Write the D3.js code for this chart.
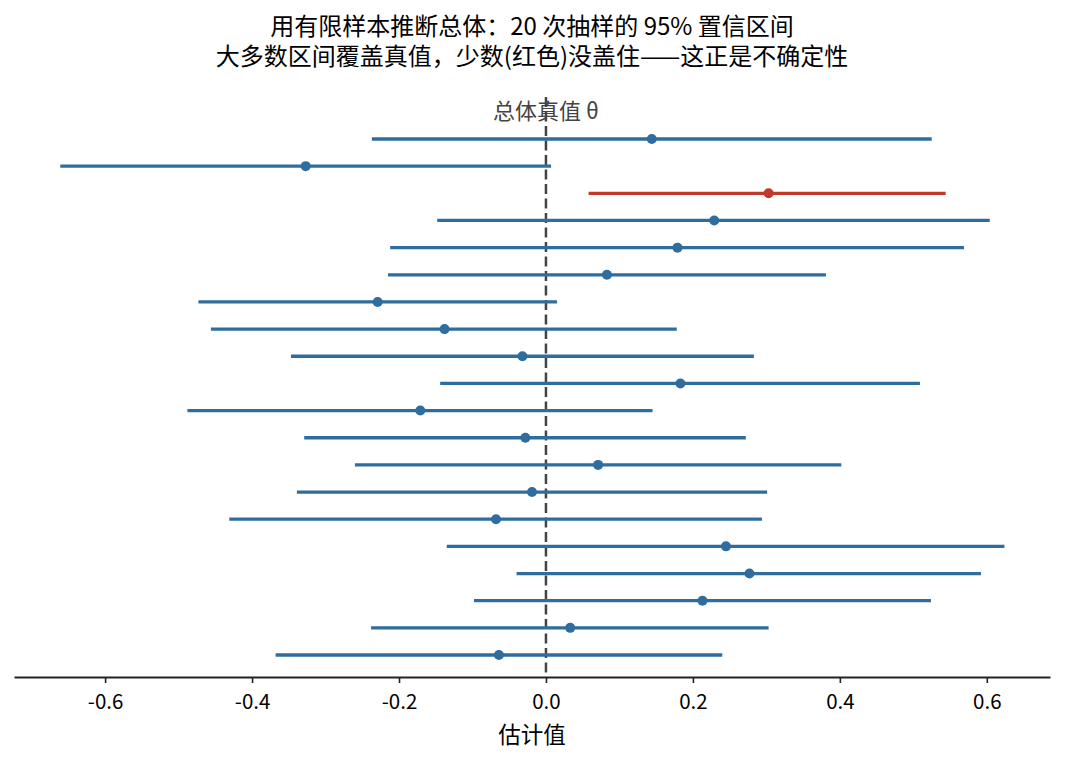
<!DOCTYPE html>
<html>
<head>
<meta charset="utf-8">
<script src="https://cdn.jsdelivr.net/npm/d3@7"></script>
<style>
  body { margin: 0; background: #fff; }
  svg text { font-family: "Noto Sans CJK SC", "Noto Sans", sans-serif; }
</style>
</head>
<body>
<div id="chart"></div>
<script>
// 20 samples, top to bottom: lower bound, point estimate, upper bound
const lower = [-0.237, -0.661, 0.058, -0.148, -0.212, -0.215, -0.473, -0.456, -0.347, -0.144,
               -0.488, -0.329, -0.260, -0.339, -0.431, -0.135, -0.040, -0.098, -0.238, -0.368];
const estimate = [0.144, -0.327, 0.303, 0.229, 0.179, 0.083, -0.229, -0.138, -0.032, 0.183,
                  -0.171, -0.028, 0.071, -0.019, -0.068, 0.245, 0.277, 0.213, 0.033, -0.064];
const upper = [0.525, 0.007, 0.544, 0.604, 0.569, 0.381, 0.015, 0.178, 0.283, 0.509,
               0.145, 0.272, 0.402, 0.301, 0.294, 0.624, 0.592, 0.524, 0.303, 0.240];
const trueValue = 0;
const xTicks = [-0.6, -0.4, -0.2, 0.0, 0.2, 0.4, 0.6];
const titleLines = ["用有限样本推断总体：20 次抽样的 95% 置信区间",
                    "大多数区间覆盖真值，少数(红色)没盖住——这正是不确定性"];

const W = 1065, H = 762;
const svg = d3.select("#chart").append("svg")
    .attr("width", W).attr("height", H);

const x = d3.scaleLinear().domain([-0.724, 0.686]).range([14, 1050]);
const y = d3.scalePoint().domain(d3.range(lower.length)).range([139, 655]);

const blue = "#2e6d9e", red = "#c0392b";
const rows = d3.range(lower.length).map(i => ({
    i, lo: lower[i], est: estimate[i], hi: upper[i],
    miss: lower[i] > trueValue || upper[i] < trueValue
}));

// true value line
svg.append("line")
    .attr("x1", x(trueValue)).attr("x2", x(trueValue))
    .attr("y1", 97).attr("y2", 677)
    .attr("stroke", "#444").attr("stroke-width", 2.5)
    .attr("stroke-dasharray", "10,4.5");

svg.append("text")
    .attr("x", x(trueValue)).attr("y", 119)
    .attr("text-anchor", "middle")
    .attr("font-size", 22).attr("fill", "#444")
    .text("总体真值 θ");

// intervals
svg.selectAll("line.ci").data(rows).enter().append("line")
    .attr("class", "ci")
    .attr("x1", d => x(d.lo)).attr("x2", d => x(d.hi))
    .attr("y1", d => y(d.i)).attr("y2", d => y(d.i))
    .attr("stroke", d => d.miss ? red : blue)
    .attr("stroke-width", 3.3);

svg.selectAll("circle.est").data(rows).enter().append("circle")
    .attr("class", "est")
    .attr("cx", d => x(d.est)).attr("cy", d => y(d.i))
    .attr("r", 5)
    .attr("fill", d => d.miss ? red : blue);

// x axis
const axis = svg.append("g")
    .attr("transform", "translate(0,677)")
    .call(d3.axisBottom(x).tickValues(xTicks)
        .tickFormat(d => d.toFixed(1))
        .tickSize(6).tickSizeOuter(0));
axis.select(".domain").attr("stroke", "#222").attr("stroke-width", 1.8);
axis.selectAll(".tick line").attr("stroke", "#222").attr("stroke-width", 1.6);
axis.selectAll(".tick text")
    .attr("y", 32).attr("dy", null)
    .attr("fill", "#000")
    .style("font-size", "20.5px")
    .style("font-family", "'Noto Sans CJK SC', sans-serif");

svg.append("text")
    .attr("x", 532).attr("y", 743)
    .attr("text-anchor", "middle").attr("font-size", 22.5)
    .text("估计值");

// title, two lines in one text block
svg.append("text")
    .attr("text-anchor", "middle").attr("font-size", 24)
    .selectAll("tspan").data(titleLines).enter().append("tspan")
    .attr("x", 532)
    .attr("y", (d, i) => 35 + i * 30)
    .text(d => d);
</script>
</body>
</html>
